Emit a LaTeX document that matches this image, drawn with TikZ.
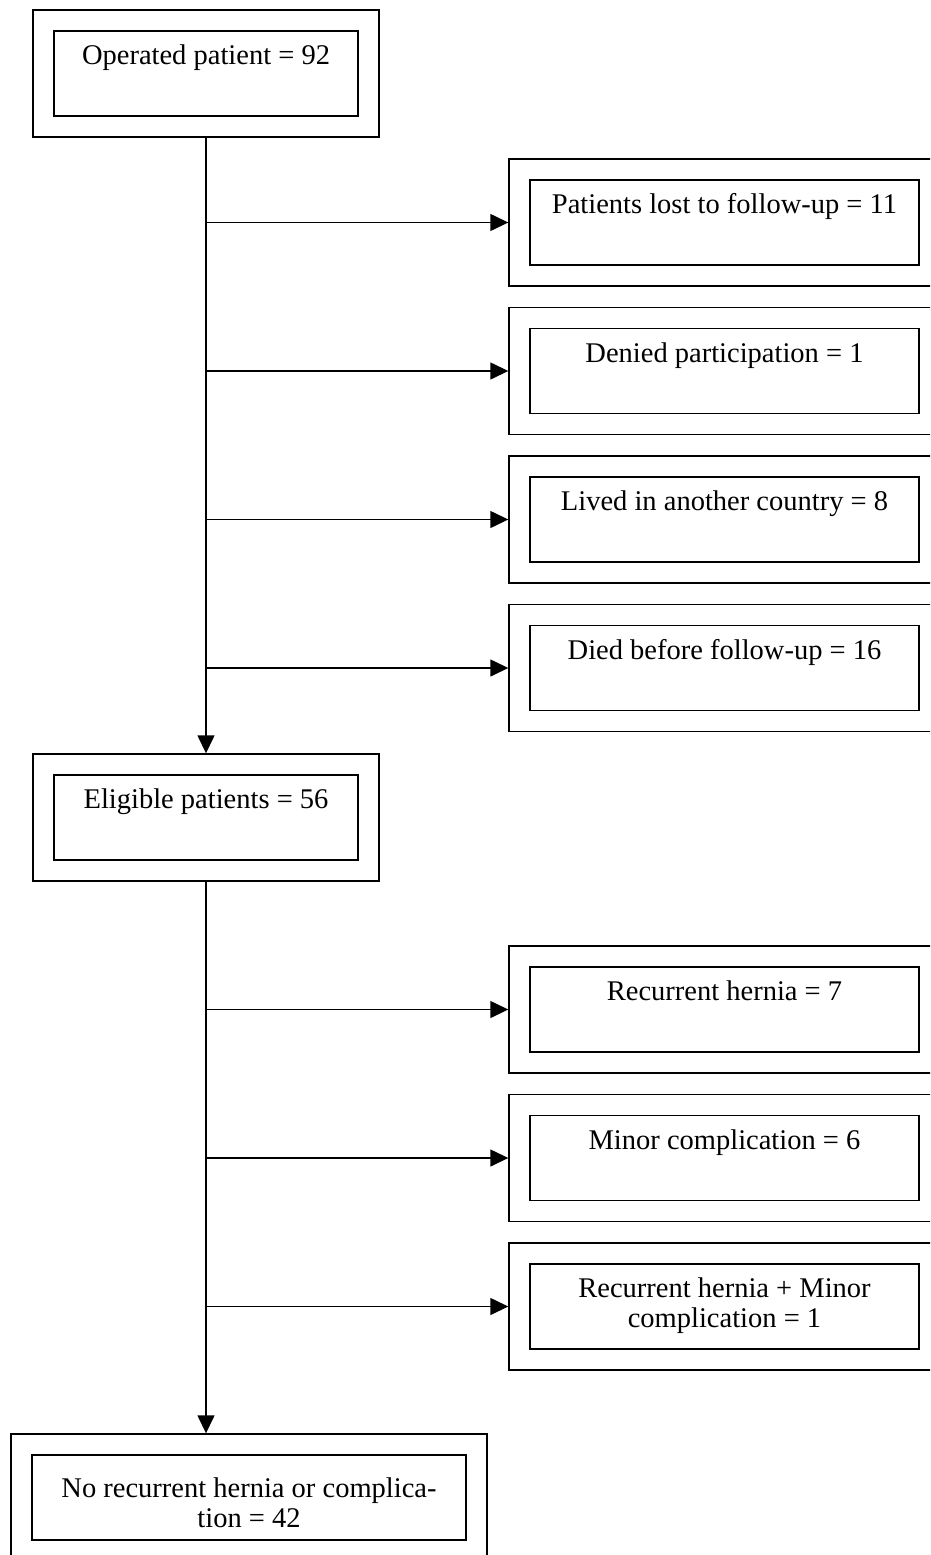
\documentclass[tikz,border=0pt]{standalone}
\usepackage{fontspec}
\setmainfont{Liberation Serif}
\usetikzlibrary{arrows.meta}
\begin{document}
\begin{tikzpicture}[x=1pt,y=-1pt,
  box/.style={draw, line width=1.4pt, rectangle, inner sep=0pt},
  outerbox/.style={box, minimum width=#1, minimum height=127pt},
  innerbox/.style={box, minimum width=#1, minimum height=85pt},
  lbl/.style={anchor=north, inner sep=0pt, align=center,
     font=\fontsize{28.5}{30}\selectfont},
  arr/.style={line width=1.4pt, -{Triangle[length=18pt,width=17pt]}},
]
\useasboundingbox (0,0) rectangle (930,1555);
\clip (0,0) rectangle (930,1555);

% left column
\node[outerbox=346pt] (op) at (206,73.5) {};
\node[innerbox=304pt] (opi) at (206,73.5) {};
\node[lbl, yshift=-13pt] (opt) at (opi.north) {\strut Operated patient = 92};

\node[outerbox=346pt] (el) at (206,817.5) {};
\node[innerbox=304pt] (eli) at (206,817.5) {};
\node[lbl, yshift=-13pt] (elt) at (eli.north) {\strut Eligible patients = 56};

\node[outerbox=476pt] (no) at (249,1497.5) {};
\node[innerbox=434pt] (noi) at (249,1497.5) {};
\node[lbl, yshift=-22pt] (not) at (noi.north) {\strut No recurrent hernia or complica-\\tion = 42};

% right column
\foreach \n/\y/\t in {
  r1/222.5/{Patients lost to follow-up = 11},
  r2/371/{Denied participation = 1},
  r3/519.5/{Lived in another country = 8},
  r4/668/{Died before follow-up = 16},
  r5/1009.5/{Recurrent hernia = 7},
  r6/1158/{Minor complication = 6},
  r7/1306.5/{Recurrent hernia + Minor\\complication = 1}} {
  \node[outerbox=431pt] (\n) at (724.5,\y) {};
  \node[innerbox=389pt] (\n i) at (724.5,\y) {};
  \node[lbl, yshift=-13pt] (\n t) at (\n i.north) {\strut\t};
}

% connectors
\draw[arr] (op.south) -- (el.north);
\draw[arr] (el.south) -- (el.south |- no.north);
\foreach \n in {r1,r2,r3,r4} {
  \draw[arr] (op.south |- \n.west) -- (\n.west);
}
\foreach \n in {r5,r6,r7} {
  \draw[arr] (el.south |- \n.west) -- (\n.west);
}
\end{tikzpicture}
\end{document}
